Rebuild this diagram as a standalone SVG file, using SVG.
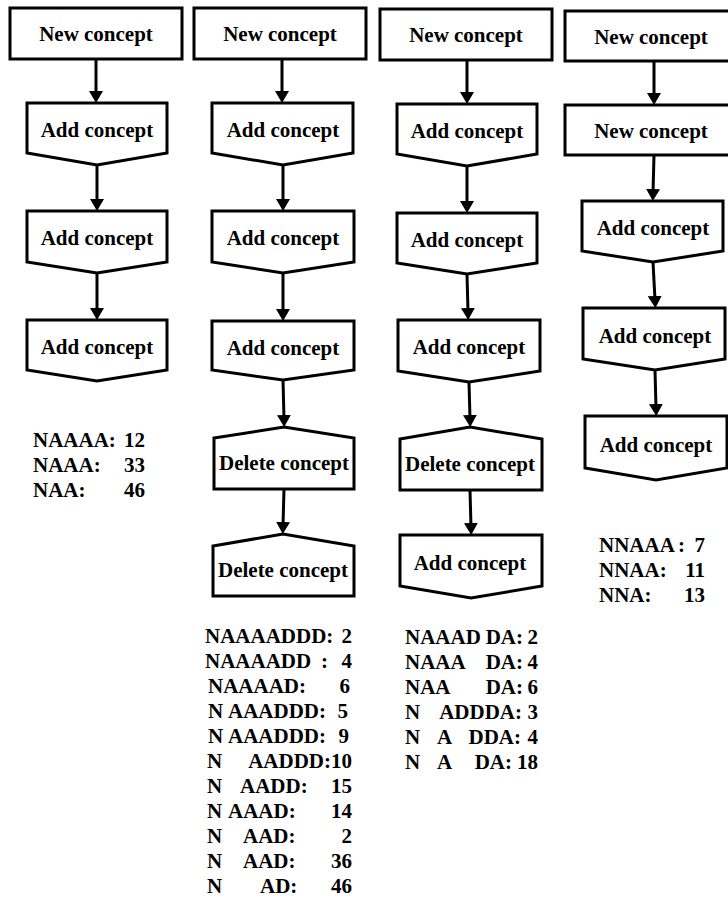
<svg xmlns="http://www.w3.org/2000/svg" width="728" height="903" viewBox="0 0 728 903">
  <defs>
    <style>
      .box { fill: #fff; stroke: #000; stroke-width: 3; stroke-linejoin: miter; }
      .lbl { font-family: "Liberation Serif", "Times New Roman", serif; font-weight: bold; font-size: 21px; text-anchor: middle; fill: #000; }
      .st { font-family: "Liberation Serif", "Times New Roman", serif; font-weight: bold; font-size: 21px; fill: #000; }
      .r { text-anchor: end; }
      .conn line { stroke: #000; stroke-width: 3; marker-end: url(#arrow); }
    </style>
    <marker id="arrow" markerUnits="userSpaceOnUse" viewBox="0 0 12 14" markerWidth="12" markerHeight="14" refX="4" refY="7" orient="auto">
      <path d="M0,0 L12,7 L0,14 Z" fill="#000"/>
    </marker>
  </defs>
  <rect width="728" height="903" fill="#fff"/>

  <!-- Column 1: N A A A -->
  <g id="c1-new"><rect class="box" x="10" y="8" width="172" height="51"/><text class="lbl" x="96" y="41">New concept</text></g>
  <g id="c1-add1"><polygon class="box" points="27,103 167,103 167,153 97,165 27,153"/><text class="lbl" x="97" y="137">Add concept</text></g>
  <g id="c1-add2"><polygon class="box" points="27,211 167,211 167,262 97,273 27,262"/><text class="lbl" x="97" y="245">Add concept</text></g>
  <g id="c1-add3"><polygon class="box" points="27,320 167,320 167,370 97,381 27,370"/><text class="lbl" x="97" y="354">Add concept</text></g>

  <!-- Column 2: N A A A D D -->
  <g id="c2-new"><rect class="box" x="194" y="8" width="172" height="51"/><text class="lbl" x="280" y="41">New concept</text></g>
  <g id="c2-add1"><polygon class="box" points="212,103 353,103 353,153 283,165 212,153"/><text class="lbl" x="283" y="137">Add concept</text></g>
  <g id="c2-add2"><polygon class="box" points="212,211 354,211 354,262 283,273 212,262"/><text class="lbl" x="283" y="245">Add concept</text></g>
  <g id="c2-add3"><polygon class="box" points="212,321 354,321 354,370 283,380 212,370"/><text class="lbl" x="283" y="355">Add concept</text></g>
  <g id="c2-del1"><polygon class="box" points="214,438 284,427 354,438 354,489 214,489"/><text class="lbl" x="284" y="470">Delete concept</text></g>
  <g id="c2-del2"><polygon class="box" points="213,546 283,534 354,546 354,596 213,596"/><text class="lbl" x="283" y="577">Delete concept</text></g>

  <!-- Column 3: N A A A D A -->
  <g id="c3-new"><rect class="box" x="380" y="9" width="172" height="51"/><text class="lbl" x="466" y="42">New concept</text></g>
  <g id="c3-add1"><polygon class="box" points="397,104 537,104 537,154 467,166 397,154"/><text class="lbl" x="467" y="138">Add concept</text></g>
  <g id="c3-add2"><polygon class="box" points="397,213 537,213 537,263 467,274 397,263"/><text class="lbl" x="467" y="247">Add concept</text></g>
  <g id="c3-add3"><polygon class="box" points="398,320 540,320 540,371 469,382 398,371"/><text class="lbl" x="469" y="354">Add concept</text></g>
  <g id="c3-del"><polygon class="box" points="400,439 470,427 542,439 542,490 400,490"/><text class="lbl" x="470" y="471">Delete concept</text></g>
  <g id="c3-add4"><polygon class="box" points="400,535 542,535 542,586 471,598 400,586"/><text class="lbl" x="470" y="570">Add concept</text></g>

  <!-- Column 4: N N A A A -->
  <g id="c4-new1"><rect class="box" x="565" y="11" width="180" height="50"/><text class="lbl" x="651" y="44">New concept</text></g>
  <g id="c4-new2"><rect class="box" x="565" y="105" width="180" height="50"/><text class="lbl" x="651" y="138">New concept</text></g>
  <g id="c4-add1"><polygon class="box" points="582,201 723,201 723,251 653,262 582,251"/><text class="lbl" x="653" y="235">Add concept</text></g>
  <g id="c4-add2"><polygon class="box" points="583,308 725,308 725,359 655,370 583,359"/><text class="lbl" x="655" y="343">Add concept</text></g>
  <g id="c4-add3"><polygon class="box" points="585,416 727,416 727,468 656,480 585,468"/><text class="lbl" x="656" y="452">Add concept</text></g>

  <!-- Connectors -->
  <g id="connectors" class="conn">
    <line x1="96" y1="59" x2="96" y2="95"/>
    <line x1="97" y1="165" x2="97" y2="203"/>
    <line x1="97" y1="273" x2="97" y2="312"/>

    <line x1="282" y1="59" x2="282" y2="95"/>
    <line x1="283" y1="165" x2="283" y2="203"/>
    <line x1="283" y1="273" x2="283" y2="313"/>
    <line x1="283" y1="380" x2="284" y2="419"/>
    <line x1="284" y1="489" x2="283" y2="526"/>

    <line x1="467" y1="60" x2="467" y2="96"/>
    <line x1="467" y1="166" x2="467" y2="205"/>
    <line x1="467" y1="274" x2="468" y2="312"/>
    <line x1="469" y1="382" x2="470" y2="419"/>
    <line x1="470" y1="490" x2="471" y2="527"/>

    <line x1="654" y1="61" x2="654" y2="97"/>
    <line x1="654" y1="155" x2="653" y2="193"/>
    <line x1="653" y1="262" x2="655" y2="300"/>
    <line x1="655" y1="370" x2="656" y2="408"/>
  </g>

  <!-- Sequence counts, column 1 -->
  <g id="c1-counts" class="st">
    <text x="33" y="447">NAAAA:</text><text class="r" x="145" y="447">12</text>
    <text x="33" y="472">NAAA:</text><text class="r" x="145" y="472">33</text>
    <text x="33" y="497">NAA:</text><text class="r" x="145" y="497">46</text>
  </g>

  <!-- Sequence counts, column 2 -->
  <g id="c2-counts" class="st">
    <text x="205" y="643">NAAAADDD:</text><text class="r" x="352" y="643">2</text>
    <text x="205" y="668">NAAAADD</text><text x="321" y="668">:</text><text class="r" x="352" y="668">4</text>
    <text x="208" y="693">NAAAAD:</text><text class="r" x="350" y="693">6</text>
    <text x="208" y="718">N</text><text x="228" y="718">AAADDD:</text><text class="r" x="348" y="718">5</text>
    <text x="208" y="743">N</text><text x="228" y="743">AAADDD:</text><text class="r" x="349" y="743">9</text>
    <text x="207" y="768">N</text><text class="r" x="352" y="768">AADDD:10</text>
    <text x="207" y="793">N</text><text x="240" y="793">AADD:</text><text class="r" x="352" y="793">15</text>
    <text x="207" y="818">N</text><text x="228" y="818">AAAD:</text><text class="r" x="352" y="818">14</text>
    <text x="207" y="843">N</text><text x="243" y="843">AAD:</text><text class="r" x="352" y="843">2</text>
    <text x="207" y="868">N</text><text x="243" y="868">AAD:</text><text class="r" x="352" y="868">36</text>
    <text x="207" y="893">N</text><text x="260" y="893">AD:</text><text class="r" x="352" y="893">46</text>
  </g>

  <!-- Sequence counts, column 3 -->
  <g id="c3-counts" class="st">
    <text x="405" y="644">NAAAD</text><text class="r" x="523" y="644">DA:</text><text class="r" x="538" y="644">2</text>
    <text x="405" y="669">NAAA</text><text class="r" x="523" y="669">DA:</text><text class="r" x="538" y="669">4</text>
    <text x="405" y="694">NAA</text><text class="r" x="523" y="694">DA:</text><text class="r" x="538" y="694">6</text>
    <text x="405" y="719">N</text><text class="r" x="522" y="719">ADDDA:</text><text class="r" x="538" y="719">3</text>
    <text x="405" y="744">N</text><text x="437" y="744">A</text><text class="r" x="521" y="744">DDA:</text><text class="r" x="538" y="744">4</text>
    <text x="405" y="769">N</text><text x="437" y="769">A</text><text class="r" x="512" y="769">DA:</text><text class="r" x="538" y="769">18</text>
  </g>

  <!-- Sequence counts, column 4 -->
  <g id="c4-counts" class="st">
    <text x="599" y="552">NNAAA</text><text x="678" y="552">:</text><text class="r" x="705" y="552">7</text>
    <text x="599" y="577">NNAA:</text><text class="r" x="705" y="577">11</text>
    <text x="599" y="602">NNA:</text><text class="r" x="705" y="602">13</text>
  </g>
</svg>
